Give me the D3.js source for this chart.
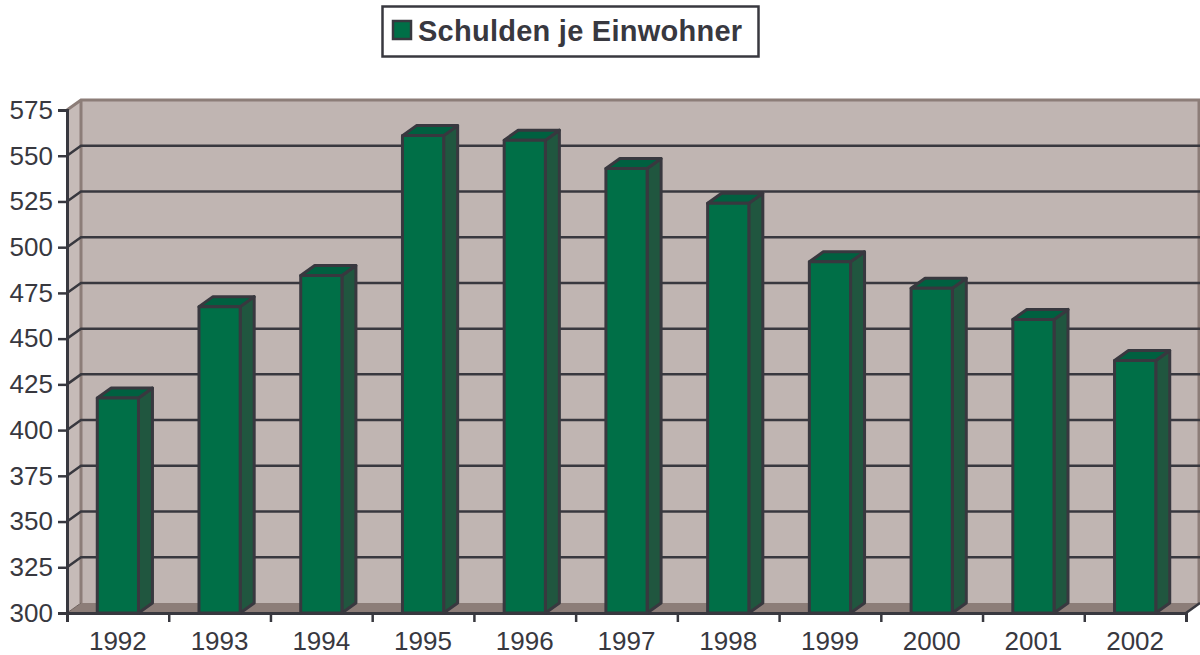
<!DOCTYPE html>
<html><head><meta charset="utf-8">
<script src="https://cdn.jsdelivr.net/npm/d3@7"></script>
<style>html,body{margin:0;padding:0;background:#fff}svg{display:block}text{font-family:"Liberation Sans",Arial,sans-serif;fill:#38383f}</style>
</head><body><svg id="c" width="1200" height="655"></svg>
<script>
const years = ["1992","1993","1994","1995","1996","1997","1998","1999","2000","2001","2002"];
const debt = [417.5,467.5,484.5,561,558.5,543,524,492,477.5,460.5,438];
const yTicks = [300,325,350,375,400,425,450,475,500,525,550,575];
const seriesName = "Schulden je Einwohner";

const ink="#38383f", dx=14, dy=-10;
const svg=d3.select("#c");
const x=d3.scaleBand().domain(years).range([67,1186]).paddingInner(0.595).paddingOuter(0.2975);
const xEdge=d3.scaleLinear().domain([0,years.length]).range([67,1186]);
const y=d3.scaleLinear().domain([300,575]).range([613,110]);
const poly=(pts,fill,stroke,sw)=>svg.append("polygon").attr("points",pts.map(p=>p.join(",")).join(" ")).attr("fill",fill).attr("stroke",stroke||"none").attr("stroke-width",sw||0).attr("stroke-linejoin","round");
const X0=xEdge.range()[0],X1=xEdge.range()[1],Y0=y(300),Y1=y(575);

// walls
poly([[X0+dx,Y1+dy],[1200,Y1+dy],[1200,Y0+dy],[X0+dx,Y0+dy]],"#c0b5b2");
poly([[X0,Y1],[X0+dx,Y1+dy],[X0+dx,Y0+dy],[X0,Y0]],"#c6bbb8");
poly([[X0,Y0],[X0+dx,Y0+dy],[1200,Y0+dy],[X1,Y0]],"#8c7d78");
// wall edges
svg.append("path").attr("d",`M${X0},${Y1}L${X0+dx},${Y1+dy}H1200M${X0+dx},${Y1+dy}V${Y0+dy}M1199,${Y1+dy}V${Y0+dy}`).attr("fill","none").attr("stroke","#8c7d78").attr("stroke-width",3);

// gridlines
yTicks.filter(t=>t>300&&t<575).forEach(t=>{
  svg.append("path").attr("d",`M${X0},${y(t)}L${X0+dx},${y(t)+dy}H1200`).attr("fill","none").attr("stroke",ink).attr("stroke-width",2.5);
});
svg.append("path").attr("d",`M${X0},${Y0}L${X0+dx},${Y0+dy}`).attr("stroke","#6f625e").attr("stroke-width",1);

// axes
const yAxis=d3.axisLeft(y).tickValues(yTicks).tickSize(9).tickPadding(5);
const gy=svg.append("g").attr("transform",`translate(${X0},0)`).call(yAxis);
const xAxis=d3.axisBottom(xEdge).tickValues(d3.range(0,years.length+1)).tickSize(9).tickFormat("");
const gx=svg.append("g").attr("transform",`translate(0,${Y0})`).call(xAxis);
[gy,gx].forEach(g=>{g.selectAll("line").attr("stroke",ink).attr("stroke-width",2.5);g.select(".domain").attr("stroke",ink).attr("stroke-width",3);});
gy.selectAll("text").attr("font-size",26).style("font-family",'"Liberation Sans",Arial,sans-serif').attr("fill",ink);
svg.append("path").attr("d",`M${X1},${Y0}L${X1+dx},${Y0+dy}`).attr("stroke",ink).attr("stroke-width",2.5).attr("fill","none");

svg.selectAll("text.yl").data(years).enter().append("text").attr("class","yl")
  .attr("x",d=>x(d)+x.bandwidth()/2).attr("y",650).attr("text-anchor","middle").attr("font-size",26).text(d=>d);

// bars
years.forEach((yr,i)=>{
  const l=x(yr),r=l+x.bandwidth(),t=y(debt[i]),b=Y0;
  poly([[r,t],[r+dx,t+dy],[r+dx,b+dy],[r,b]],"#20563f",ink,3);
  poly([[l,t],[l+dx,t+dy],[r+dx,t+dy],[r,t]],"#006040",ink,3);
  poly([[l,t],[r,t],[r,b],[l,b]],"#006f47",ink,3);
});

// legend
svg.append("rect").attr("x",382.5).attr("y",6.5).attr("width",376).attr("height",50).attr("fill","#fff").attr("stroke",ink).attr("stroke-width",2.5);
svg.append("rect").attr("x",393).attr("y",21).attr("width",18).attr("height",18).attr("fill","#006f47").attr("stroke",ink).attr("stroke-width",2.5);
svg.append("text").attr("x",418).attr("y",41).attr("font-size",29).attr("letter-spacing",0.25).attr("font-weight","bold").text(seriesName);
</script></body></html>
